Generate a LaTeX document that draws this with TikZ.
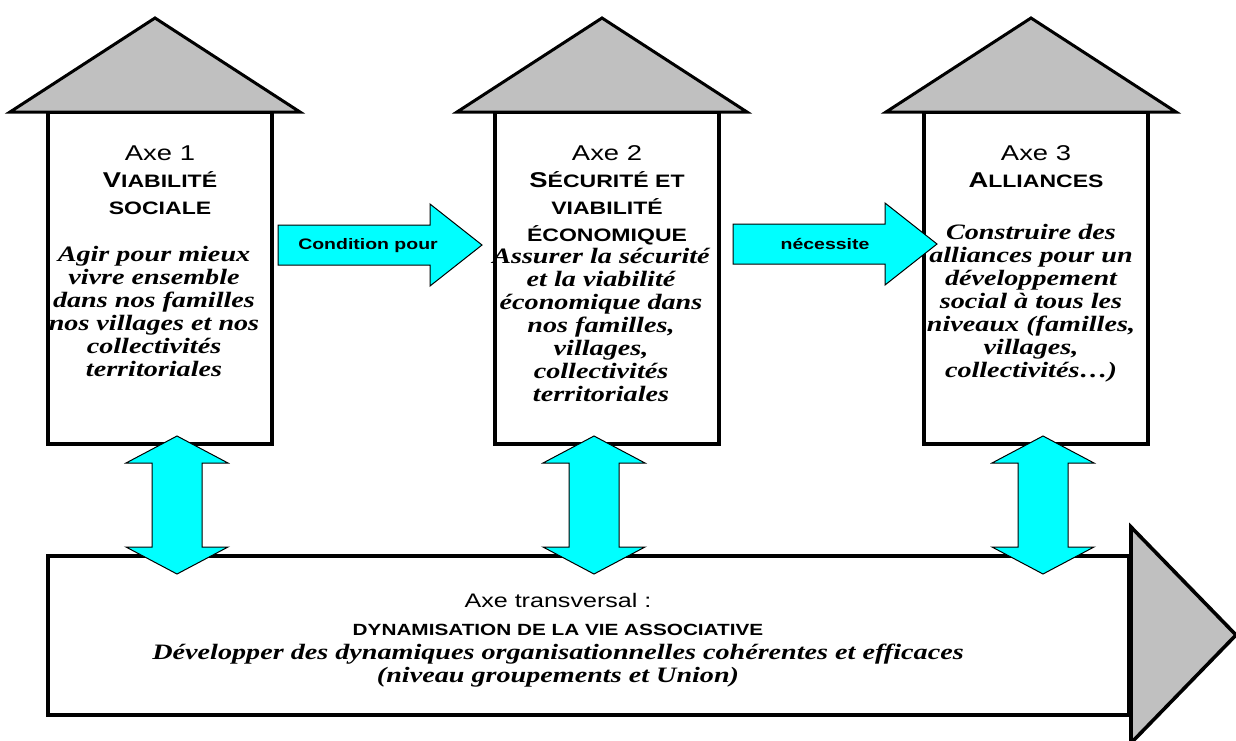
\documentclass[tikz,border=0pt]{standalone}
\usepackage{fontspec}
\setmainfont[FakeStretch=1.28]{Liberation Serif}
\newfontfamily\arialf[FakeStretch=1.28]{Liberation Sans}
\usetikzlibrary{positioning}
\definecolor{aqua}{RGB}{0,255,255}
\definecolor{roofgray}{RGB}{192,192,192}
\newcommand\smcap{\fontsize{9}{13.5}\selectfont}

\begin{document}
\begin{tikzpicture}[x=0.5pt,y=-0.5pt,
	housebox/.style={draw,line width=2pt,fill=white,minimum width=112pt,minimum height=166pt,inner sep=0},
	roof/.style={draw,line width=1.5pt,fill=roofgray,line join=miter},
	transbox/.style={draw,line width=2pt,fill=white,minimum width=540.5pt,minimum height=79.5pt,inner sep=0},
	blockarrow/.style={draw,line width=0.5pt,fill=aqua},
	headtxt/.style={align=center,inner sep=0,anchor=north,font=\arialf\fontsize{10.7}{13.5}\selectfont},
	bodytxt/.style={align=center,inner sep=0,anchor=north,font=\bfseries\itshape\fontsize{11}{11.5}\selectfont},
	arrowtxt/.style={inner sep=0,anchor=base,font=\arialf\bfseries\fontsize{7.6}{9}\selectfont}]
	\useasboundingbox (0,0) rectangle (1236,740);

	% houses
	\foreach \cx/\n in {160/1,607/2,1036/3}{
		\node[housebox] (box\n) at (\cx,278) {};
		\draw[roof] (\cx-150,112) -- (\cx-5,18) -- (\cx+140,112) -- cycle;
	}

	% transversal axis
	\node[transbox] (trans) at (588.5,635.5) {};
	\draw[line width=1.8pt,fill=roofgray] (trans.east |- 0,527) -- (1236,635) -- (trans.east |- 0,743) -- cycle;

	% links between axes
	\foreach \x/\y in {278/245,733/244}
		\draw[blockarrow] (\x,\y-20) -- (\x+152,\y-20) -- (\x+152,\y-41) -- (\x+204,\y) -- (\x+152,\y+41) -- (\x+152,\y+20) -- (\x,\y+20) -- cycle;

	\foreach \cx in {177,594,1043}
		\draw[blockarrow] (\cx,436) -- (\cx+51,463) -- (\cx+25,463) -- (\cx+25,547) -- (\cx+51,547) -- (\cx,574) -- (\cx-51,547) -- (\cx-25,547) -- (\cx-25,463) -- (\cx-51,463) -- cycle;

	\node[arrowtxt] (cond) at (368,249) {Condition pour};
	\node[arrowtxt] (nec) at (825,249) {nécessite};

	% texts of the axes
	\node[headtxt] (head1) at (160,145) {Axe 1\\{\bfseries V\smcap IABILITÉ}\\{\bfseries\smcap SOCIALE}};
	\node[bodytxt] (body1) at (154,246) {Agir pour mieux\\vivre ensemble\\dans nos familles\\nos villages et nos\\collectivités\\territoriales};

	\node[headtxt] (head2) at (607,145) {Axe 2\\{\bfseries S\smcap ÉCURITÉ ET}\\{\bfseries\smcap VIABILITÉ}\\{\bfseries\smcap ÉCONOMIQUE}};
	\node[bodytxt] (body2) at (601,248) {Assurer la sécurité\\et la viabilité\\économique dans\\nos familles,\\villages,\\collectivités\\territoriales};

	\node[headtxt] (head3) at (1036,145) {Axe 3\\{\bfseries A\smcap LLIANCES}};
	\node[bodytxt] (body3) at (1031,224) {Construire des\\alliances pour un\\développement\\social à tous les\\niveaux (familles,\\villages,\\collectivités…)};

	\node[headtxt,anchor=base,font=\arialf\fontsize{9.8}{12}\selectfont] (thead) at (558,607) {Axe transversal :};
	\node[arrowtxt,font=\arialf\bfseries\fontsize{8.1}{9}\selectfont] (tname) at (558,635) {DYNAMISATION DE LA VIE ASSOCIATIVE};
	\node[bodytxt] (tbody) at (558,644) {Développer des dynamiques organisationnelles cohérentes et efficaces\\(niveau groupements et Union)};
\end{tikzpicture}
\end{document}
